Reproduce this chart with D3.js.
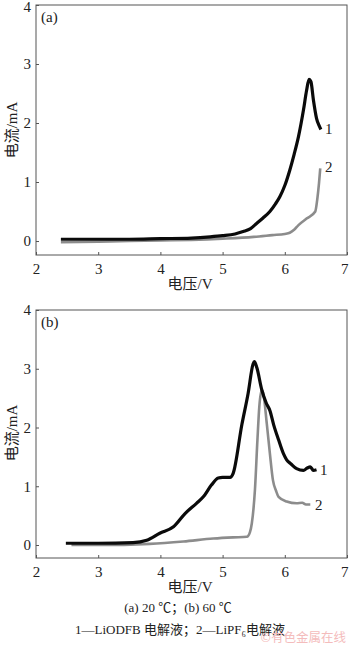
<!DOCTYPE html>
<html>
<head>
<meta charset="utf-8">
<script src="https://cdn.jsdelivr.net/npm/d3@7"></script>
<style>
  html, body { margin: 0; padding: 0; background: #fff; }
  svg { display: block; }
  text { font-family: "Liberation Serif", "Times New Roman", serif; fill: #222; }
  .cjk { font-family: "Liberation Serif", "Noto Sans CJK SC", serif; }
</style>
</head>
<body>
<svg id="chart" width="350" height="645"></svg>
<script>
// Voltage (V) and current (mA) samples for each electrolyte

// (a) 20 °C
const a1Volt = [2.40, 3.00, 3.50, 4.00, 4.50, 4.80, 5.00, 5.20, 5.33, 5.45, 5.55, 5.65, 5.76, 5.85, 5.92, 6.00, 6.08, 6.15, 6.22, 6.30, 6.35, 6.39, 6.42, 6.46, 6.51, 6.55, 6.58];
const a1Curr = [0.03, 0.03, 0.03, 0.04, 0.05, 0.07, 0.09, 0.12, 0.16, 0.21, 0.30, 0.39, 0.50, 0.63, 0.75, 0.94, 1.20, 1.47, 1.77, 2.22, 2.55, 2.74, 2.70, 2.39, 2.08, 1.96, 1.89];
const a2Volt = [2.40, 3.00, 3.50, 4.00, 4.50, 5.00, 5.50, 5.80, 6.00, 6.08, 6.15, 6.22, 6.35, 6.49, 6.52, 6.55, 6.57];
const a2Curr = [-0.02, -0.01, 0.00, 0.01, 0.02, 0.04, 0.07, 0.10, 0.12, 0.14, 0.19, 0.27, 0.38, 0.50, 0.69, 0.98, 1.23];

// (b) 60 °C
const b1Volt = [2.48, 3.00, 3.56, 3.78, 3.99, 4.21, 4.40, 4.58, 4.69, 4.82, 4.93, 5.00, 5.12, 5.17, 5.31, 5.41, 5.49, 5.51, 5.55, 5.63, 5.70, 5.76, 5.82, 5.90, 5.98, 6.03, 6.10, 6.19, 6.30, 6.36, 6.41, 6.46, 6.51];
const b1Curr = [0.03, 0.03, 0.04, 0.08, 0.20, 0.31, 0.54, 0.71, 0.82, 1.02, 1.14, 1.15, 1.15, 1.22, 2.05, 2.58, 3.08, 3.12, 3.02, 2.64, 2.42, 2.29, 2.05, 1.79, 1.55, 1.45, 1.38, 1.30, 1.27, 1.31, 1.33, 1.27, 1.28];
const b2Volt = [2.57, 3.00, 3.83, 4.37, 4.85, 5.17, 5.39, 5.44, 5.47, 5.52, 5.56, 5.59, 5.63, 5.66, 5.71, 5.76, 5.81, 5.86, 5.90, 6.03, 6.19, 6.28, 6.34, 6.41];
const b2Curr = [0.00, 0.00, 0.02, 0.06, 0.11, 0.13, 0.14, 0.22, 0.37, 0.94, 1.79, 2.35, 2.64, 2.55, 2.07, 1.56, 1.10, 0.92, 0.82, 0.74, 0.71, 0.72, 0.69, 0.69];

const xTicks = [2, 3, 4, 5, 6, 7];
const yTicks = [0, 1, 2, 3, 4];
const xTitle = "电压/V";
const yTitle = "电流/mA";
const captionLines = ["(a) 20 ℃；(b) 60 ℃", "1—LiODFB 电解液；2—LiPF₆电解液"];

const svg = d3.select("#chart");

const x = d3.scaleLinear().domain([2, 7]).range([36, 347]);

function panel(cfg) {
  const y = d3.scaleLinear().domain([cfg.yMin, 4]).range([cfg.bottom, cfg.top]);
  const g = svg.append("g");

  // frame
  g.append("rect")
    .attr("x", x(2)).attr("y", cfg.top)
    .attr("width", x(7) - x(2)).attr("height", cfg.bottom - cfg.top)
    .attr("fill", "none").attr("stroke", "#555").attr("stroke-width", 1);

  // x axis, inward ticks
  const xa = g.append("g").attr("transform", `translate(0,${cfg.bottom})`)
    .call(d3.axisBottom(x).tickValues(xTicks).tickFormat(d3.format("d"))
      .tickSizeInner(-3).tickSizeOuter(0).tickPadding(8));
  xa.select(".domain").remove();
  xa.selectAll("line").attr("stroke", "#555");
  xa.selectAll("text").attr("font-size", 15).attr("fill", "#222")
    .style("font-family", "'Liberation Serif', serif");
  // last label sits just inside the window edge
  xa.selectAll("text").filter(d => d === 7).attr("text-anchor", "end").attr("dx", 1);

  // y axis, inward ticks
  const ya = g.append("g").attr("transform", `translate(${x(2)},0)`)
    .call(d3.axisLeft(y).tickValues(yTicks).tickFormat(d3.format("d"))
      .tickSizeInner(-3).tickSizeOuter(0).tickPadding(5));
  ya.select(".domain").remove();
  ya.selectAll("line").attr("stroke", "#555");
  ya.selectAll("text").attr("font-size", 15).attr("fill", "#222")
    .style("font-family", "'Liberation Serif', serif");
  if (cfg.top < 8) ya.selectAll("text").filter(d => d === 4).attr("dy", "0.42em");

  const line = d3.line().x(d => x(d[0])).y(d => y(d[1])).curve(d3.curveMonotoneX);

  g.append("path")
    .datum(d3.zip(cfg.v2, cfg.c2))
    .attr("d", line).attr("fill", "none")
    .attr("stroke", "#8c8c8c").attr("stroke-width", 2.6).attr("stroke-linejoin", "round");
  g.append("path")
    .datum(d3.zip(cfg.v1, cfg.c1))
    .attr("d", line).attr("fill", "none")
    .attr("stroke", "#0a0a0a").attr("stroke-width", 3.2).attr("stroke-linejoin", "round");

  // panel letter
  g.append("text").attr("x", 41).attr("y", cfg.top + 17).attr("font-size", 15).text(cfg.tag);

  // curve labels
  cfg.labels.forEach(l => {
    g.append("text").attr("x", l.x).attr("y", l.y).attr("font-size", 15).text(l.t);
  });

  // axis titles
  g.append("text").attr("class", "cjk")
    .attr("x", 190).attr("y", cfg.bottom + 34)
    .attr("text-anchor", "middle").attr("font-size", 15).text(xTitle);
  g.append("text").attr("class", "cjk")
    .attr("transform", `translate(17,${cfg.yTitleY}) rotate(-90)`)
    .attr("text-anchor", "middle").attr("font-size", 15).text(yTitle);
}

panel({
  tag: "(a)", top: 5, bottom: 255, yMin: -0.237, yTitleY: 130,
  v1: a1Volt, c1: a1Curr, v2: a2Volt, c2: a2Curr,
  labels: [{ t: "1", x: 325, y: 134 }, { t: "2", x: 325, y: 172 }]
});

panel({
  tag: "(b)", top: 310, bottom: 558, yMin: -0.221, yTitleY: 433,
  v1: b1Volt, c1: b1Curr, v2: b2Volt, c2: b2Curr,
  labels: [{ t: "1", x: 320, y: 475 }, { t: "2", x: 315, y: 510 }]
});

// caption
svg.append("text").attr("class", "cjk").attr("x", 178).attr("y", 612)
  .attr("text-anchor", "middle").attr("font-size", 13).text(captionLines[0]);
svg.append("text").attr("class", "cjk").attr("x", 180).attr("y", 634)
  .attr("text-anchor", "middle").attr("font-size", 13).text(captionLines[1]);

// publisher mark
svg.append("text").attr("x", 346).attr("y", 642)
  .attr("text-anchor", "end").attr("font-size", 12.5)
  .style("font-family", "'Noto Sans CJK SC', sans-serif")
  .style("fill", "#f4bcbc").text("©有色金属在线");
</script>
</body>
</html>
